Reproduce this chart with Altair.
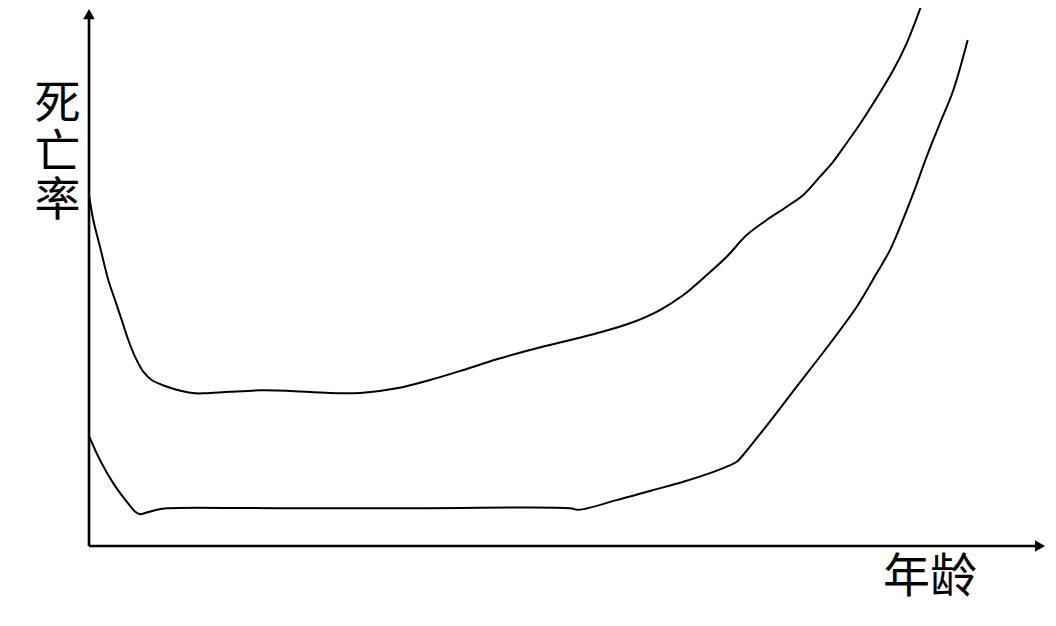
import altair as alt
import pandas as pd

# Upper curve (age, mortality rate) in arbitrary units
upper_age = [0, 0.449, 1.148, 2.015, 2.714, 3.413, 4.102, 4.802, 5.668, 6.545, 7.933, 9.676,
             11.06, 12.11, 14.72, 17.85, 20.64, 25.16, 28.63, 32.12, 35.59, 39.07, 42.56, 46.03,
             49.51, 53.00, 56.47, 59.60, 62.04, 64.48, 66.57, 68.65, 70.74, 72.83, 74.56, 76.30,
             77.69, 79.09, 80.48, 81.87, 83.96, 85.35, 87.09]
upper_rate = [65.00, 60.37, 55.43, 49.26, 45.56, 41.85, 38.15, 35.06, 32.28, 30.74, 29.63, 28.70,
              28.28, 28.28, 28.57, 28.83, 28.76, 28.33, 28.39, 29.20, 30.74, 32.59, 34.57, 36.30,
              37.83, 39.39, 41.24, 43.70, 46.48, 50.19, 53.57, 57.59, 60.37, 62.83, 65.00, 68.39,
              71.20, 74.63, 78.15, 81.98, 88.15, 93.09, 101.11]

# Lower curve
lower_age = [0, 1.15, 2.54, 3.94, 4.80, 5.32, 6.02, 7.07, 8.11, 20.0, 35.0, 50.2, 51.08, 55.08,
             58.56, 62.04, 64.82, 66.57, 67.61, 68.30, 70.39, 73.87, 77.35, 80.14, 82.22, 83.61,
             84.66, 86.04, 87.44, 88.83, 90.22, 91.72]
lower_rate = [20.4, 15.9, 11.6, 8.2, 6.4, 5.9, 6.2, 6.7, 7.0, 7.0, 7.0, 7.0, 6.7, 8.5,
              10.2, 11.9, 13.5, 14.7, 15.6, 16.9, 21.5, 29.5, 37.5, 44.3, 50.5, 54.8,
              59.1, 65.3, 72.1, 78.3, 84.4, 93.7]

y_label_chars = ["死", "亡", "率"]
x_label_text = "年龄"

xs = alt.Scale(domain=[-8.455, 99.896], nice=False, zero=False)
ys = alt.Scale(domain=[-11.48, 99.63], nice=False, zero=False)

curves = pd.DataFrame(
    [{"series": "upper", "i": i, "age": a, "rate": r} for i, (a, r) in enumerate(zip(upper_age, upper_rate))]
    + [{"series": "lower", "i": i, "age": a, "rate": r} for i, (a, r) in enumerate(zip(lower_age, lower_rate))]
)

axes_df = pd.DataFrame([
    {"x": 0, "x2": 0, "y": 0, "y2": 98.0},
    {"x": 0, "x2": 99.0, "y": 0, "y2": 0},
])

arrow_up = pd.DataFrame([{"x": 0, "y": 98.5}])
arrow_right = pd.DataFrame([{"x": 99.27, "y": 0}])

ylab = pd.DataFrame({"t": y_label_chars, "x": [-3.29] * 3, "y": [81.85, 72.87, 63.8]})
xlab = pd.DataFrame({"t": [x_label_text], "x": [87.79], "y": [-5.93]})

axes = alt.Chart(axes_df).mark_rule(color="black", strokeWidth=2.6).encode(
    x=alt.X("x:Q", scale=xs, axis=None),
    x2="x2:Q",
    y=alt.Y("y:Q", scale=ys, axis=None),
    y2="y2:Q",
)

head_up = alt.Chart(arrow_up).mark_point(shape="triangle-up", filled=True, size=135, color="black", opacity=1).encode(
    x=alt.X("x:Q", scale=xs, axis=None), y=alt.Y("y:Q", scale=ys, axis=None)
)
head_right = alt.Chart(arrow_right).mark_point(shape="triangle-right", filled=True, size=135, color="black", opacity=1).encode(
    x=alt.X("x:Q", scale=xs, axis=None), y=alt.Y("y:Q", scale=ys, axis=None)
)

lines = alt.Chart(curves).mark_line(color="black", strokeWidth=2, interpolate="catmull-rom", clip=True).encode(
    x=alt.X("age:Q", scale=xs, axis=None),
    y=alt.Y("rate:Q", scale=ys, axis=None),
    detail="series:N",
    order="i:Q",
)

font = "Noto Sans CJK SC"
ytext = alt.Chart(ylab).mark_text(font=font, fontSize=46, color="black", align="center", baseline="middle").encode(
    x=alt.X("x:Q", scale=xs, axis=None), y=alt.Y("y:Q", scale=ys, axis=None), text="t:N"
)
xtext = alt.Chart(xlab).mark_text(font=font, fontSize=47, color="black", align="center", baseline="middle").encode(
    x=alt.X("x:Q", scale=xs, axis=None), y=alt.Y("y:Q", scale=ys, axis=None), text="t:N"
)

chart = alt.layer(axes, lines, head_up, head_right, ytext, xtext).properties(
    width=1038, height=600, padding=0, autosize=alt.AutoSizeParams(type="none")
).configure_view(strokeWidth=0, strokeOpacity=0)

chart.save("out.html", embed_options={"renderer": "svg", "actions": False})
